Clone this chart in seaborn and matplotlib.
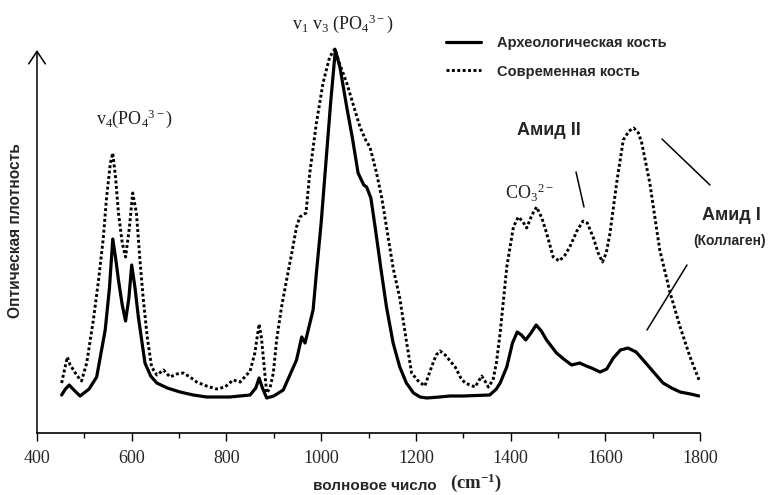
import matplotlib
matplotlib.use("Agg")
import matplotlib.pyplot as plt
import seaborn as sns
import pandas as pd
from matplotlib.lines import Line2D

# ---------------- data (absorbance, arbitrary units) ----------------
arch_wn = [452, 460, 468, 480, 491, 510, 526, 544, 553, 560, 566, 572, 580, 587, 594, 600,
           607, 614, 628, 640, 653, 675, 702, 730, 758, 807, 850, 862, 869, 876, 885, 900,
           920, 948, 959, 966, 983, 990, 1000, 1011, 1020, 1030, 1040, 1054, 1066, 1078,
           1090, 1096, 1105, 1114, 1126, 1138, 1152, 1166, 1180, 1195, 1209, 1223, 1250,
           1272, 1300, 1356, 1370, 1378, 1392, 1404, 1414, 1423, 1432, 1443, 1454, 1465,
           1476, 1497, 1512, 1529, 1546, 1560, 1571, 1589, 1603, 1617, 1632, 1648, 1665,
           1680, 1700, 1722, 1740, 1758, 1780, 1798]
arch_abs = [0.38, 0.44, 0.48, 0.42, 0.37, 0.44, 0.56, 1.03, 1.45, 1.94, 1.75, 1.53, 1.28, 1.12,
            1.35, 1.68, 1.45, 1.16, 0.70, 0.57, 0.50, 0.45, 0.41, 0.38, 0.36, 0.36, 0.38, 0.45,
            0.55, 0.45, 0.35, 0.37, 0.43, 0.73, 0.96, 0.90, 1.23, 1.60, 2.10, 2.76, 3.30, 3.83,
            3.65, 3.26, 2.95, 2.60, 2.48, 2.46, 2.35, 2.06, 1.65, 1.26, 0.90, 0.66, 0.50, 0.40,
            0.36, 0.35, 0.36, 0.37, 0.37, 0.38, 0.44, 0.50, 0.66, 0.90, 1.01, 0.98, 0.93, 1.00,
            1.08, 1.02, 0.93, 0.80, 0.74, 0.68, 0.70, 0.67, 0.65, 0.61, 0.64, 0.75, 0.83, 0.85,
            0.81, 0.73, 0.62, 0.50, 0.45, 0.41, 0.39, 0.37]

mod_wn = [452, 464, 470, 477, 485, 494, 505, 519, 530, 540, 547, 555, 560, 566, 572, 580,
          587, 595, 602, 610, 617, 624, 633, 642, 653, 667, 681, 695, 709, 723, 737, 758,
          779, 797, 814, 829, 850, 860, 869, 874, 878, 885, 892, 899, 906, 916, 927, 938,
          948, 955, 968, 976, 990, 1004, 1018, 1029, 1040, 1054, 1068, 1082, 1095, 1103,
          1117, 1128, 1138, 1152, 1166, 1180, 1191, 1205, 1219, 1233, 1243, 1251, 1262,
          1283, 1295, 1304, 1325, 1339, 1346, 1353, 1363, 1370, 1378, 1392, 1406, 1416,
          1425, 1434, 1445, 1455, 1466, 1476, 1490, 1503, 1515, 1525, 1540, 1553, 1562,
          1575, 1585, 1594, 1602, 1610, 1624, 1638, 1650, 1660, 1670, 1677, 1694, 1715,
          1737, 1758, 1779, 1798]
mod_abs = [0.50, 0.76, 0.68, 0.63, 0.57, 0.52, 0.70, 1.13, 1.53, 1.95, 2.36, 2.70, 2.80, 2.55,
           2.20, 1.90, 1.76, 2.05, 2.40, 2.20, 1.75, 1.36, 0.95, 0.66, 0.58, 0.63, 0.56, 0.59,
           0.60, 0.56, 0.51, 0.47, 0.44, 0.46, 0.53, 0.51, 0.62, 0.80, 1.09, 0.95, 0.75, 0.40,
           0.45, 0.60, 0.93, 1.25, 1.53, 1.80, 2.06, 2.16, 2.20, 2.60, 3.10, 3.50, 3.76, 3.84,
           3.68, 3.50, 3.28, 3.06, 2.92, 2.86, 2.60, 2.35, 2.06, 1.65, 1.35, 0.92, 0.60, 0.52,
           0.47, 0.66, 0.78, 0.82, 0.78, 0.66, 0.55, 0.50, 0.46, 0.57, 0.52, 0.46, 0.53, 0.70,
           1.00, 1.66, 2.06, 2.16, 2.12, 2.05, 2.18, 2.26, 2.15, 2.00, 1.76, 1.72, 1.78, 1.86,
           2.02, 2.12, 2.10, 1.95, 1.80, 1.71, 1.80, 2.00, 2.50, 2.93, 3.02, 3.05, 3.00, 2.90,
           2.50, 1.83, 1.40, 1.06, 0.76, 0.53]

series_labels = ["Археологическая кость", "Современная кость"]
xticks_major = [400, 600, 800, 1000, 1200, 1400, 1600, 1800]
xticks_minor = [500, 700, 900, 1100, 1300, 1500, 1700]

arch_df = pd.DataFrame({"wn": arch_wn, "A": arch_abs})
mod_df = pd.DataFrame({"wn": mod_wn, "A": mod_abs})

# ---------------- figure ----------------
sns.set_style("white")
plt.rcParams["font.family"] = ["Liberation Sans", "DejaVu Sans"]
plt.rcParams["mathtext.fontset"] = "custom"
plt.rcParams["mathtext.rm"] = "Liberation Serif"
plt.rcParams["mathtext.it"] = "Liberation Serif:italic"
plt.rcParams["mathtext.bf"] = "Liberation Serif:bold"

W, H = 770, 495
fig = plt.figure(figsize=(W / 100, H / 100), dpi=100)
ax = fig.add_axes([37 / W, 1 - 433 / H, (700 - 37) / W, (433 - 45) / H])

sns.lineplot(data=arch_df, x="wn", y="A", ax=ax, color="black", lw=2.3,
             label=series_labels[0], sort=False)
sns.lineplot(data=mod_df, x="wn", y="A", ax=ax, color="black", lw=2.1,
             linestyle=(0, (1, 0.85)), label=series_labels[1], sort=False)
for ln in ax.lines:
    ln.set_solid_capstyle("round")
    ln.set_dash_capstyle("butt")

ax.set_xlim(400, 1800)
ax.set_ylim(0, 3.88)
ax.set_xticks(xticks_major)
ax.set_xticks(xticks_minor, minor=True)
ax.set_xticklabels([str(v) for v in xticks_major], fontfamily="Liberation Serif", fontsize=13)
ax.set_yticks([])
ax.tick_params(axis="x", which="major", direction="out", length=6, width=1, color="black",
               pad=6, bottom=True)
ax.tick_params(axis="x", which="minor", direction="out", length=3.5, width=1, color="black",
               bottom=True)
for s in ["top", "right", "left"]:
    ax.spines[s].set_visible(False)
ax.spines["bottom"].set_color("black")
ax.spines["bottom"].set_linewidth(1.2)
ax.set_xlabel("")
ax.set_ylabel("")

# y-axis arrow
ax.annotate("", xy=(0, 383 / 388), xytext=(0, 0), xycoords="axes fraction",
            textcoords="axes fraction",
            arrowprops=dict(arrowstyle="->,head_length=0.6,head_width=0.4", lw=1.1,
                            color="black", mutation_scale=15, shrinkA=0, shrinkB=0))

# legend
leg = ax.legend(loc="upper left", bbox_to_anchor=(446 / W, 1 - 36 / H),
                bbox_transform=fig.transFigure, frameon=False, handlelength=2.4,
                handletextpad=1.1, labelspacing=1.0, borderpad=0, borderaxespad=0,
                prop={"family": "Liberation Sans", "weight": "bold", "size": 10.5})

def ftext(x, y, s, **kw):
    fig.text(x / W, 1 - y / H, s, ha="center", va="center", **kw)

def fline(x0, y0, x1, y1):
    fig.add_artist(Line2D([x0 / W, x1 / W], [1 - y0 / H, 1 - y1 / H], color="black",
                          lw=1.1, transform=fig.transFigure))

# annotations
ftext(134, 119, r"$\mathrm{v_4(PO_4{}^{3-})}$", fontsize=13, color="#222222")
ftext(343, 24, r"$\mathrm{v_1\ v_3\ (PO_4{}^{3-})}$", fontsize=13, color="#222222")
ftext(529, 193, r"$\mathrm{CO_3{}^{2-}}$", fontsize=13, color="#222222")
ftext(549, 131, "Амид II", fontsize=13, fontweight="bold")
ftext(731, 216, "Амид I", fontsize=13, fontweight="bold")
ftext(730, 241, "(Коллаген)", fontsize=10, fontweight="bold")
fline(576, 172, 584, 207)
fline(662, 139, 710, 185)
fline(687, 265, 647, 330)

# axis labels
ftext(16, 231, "Оптическая плотность", fontsize=11.2, fontweight="bold", rotation=90)
ftext(375, 486, "волновое число", fontsize=11, fontweight="bold")
ftext(476, 483, r"$\mathbf{(cm^{-1})}$", fontsize=13.5)

fig.savefig("out.png", dpi=100)
